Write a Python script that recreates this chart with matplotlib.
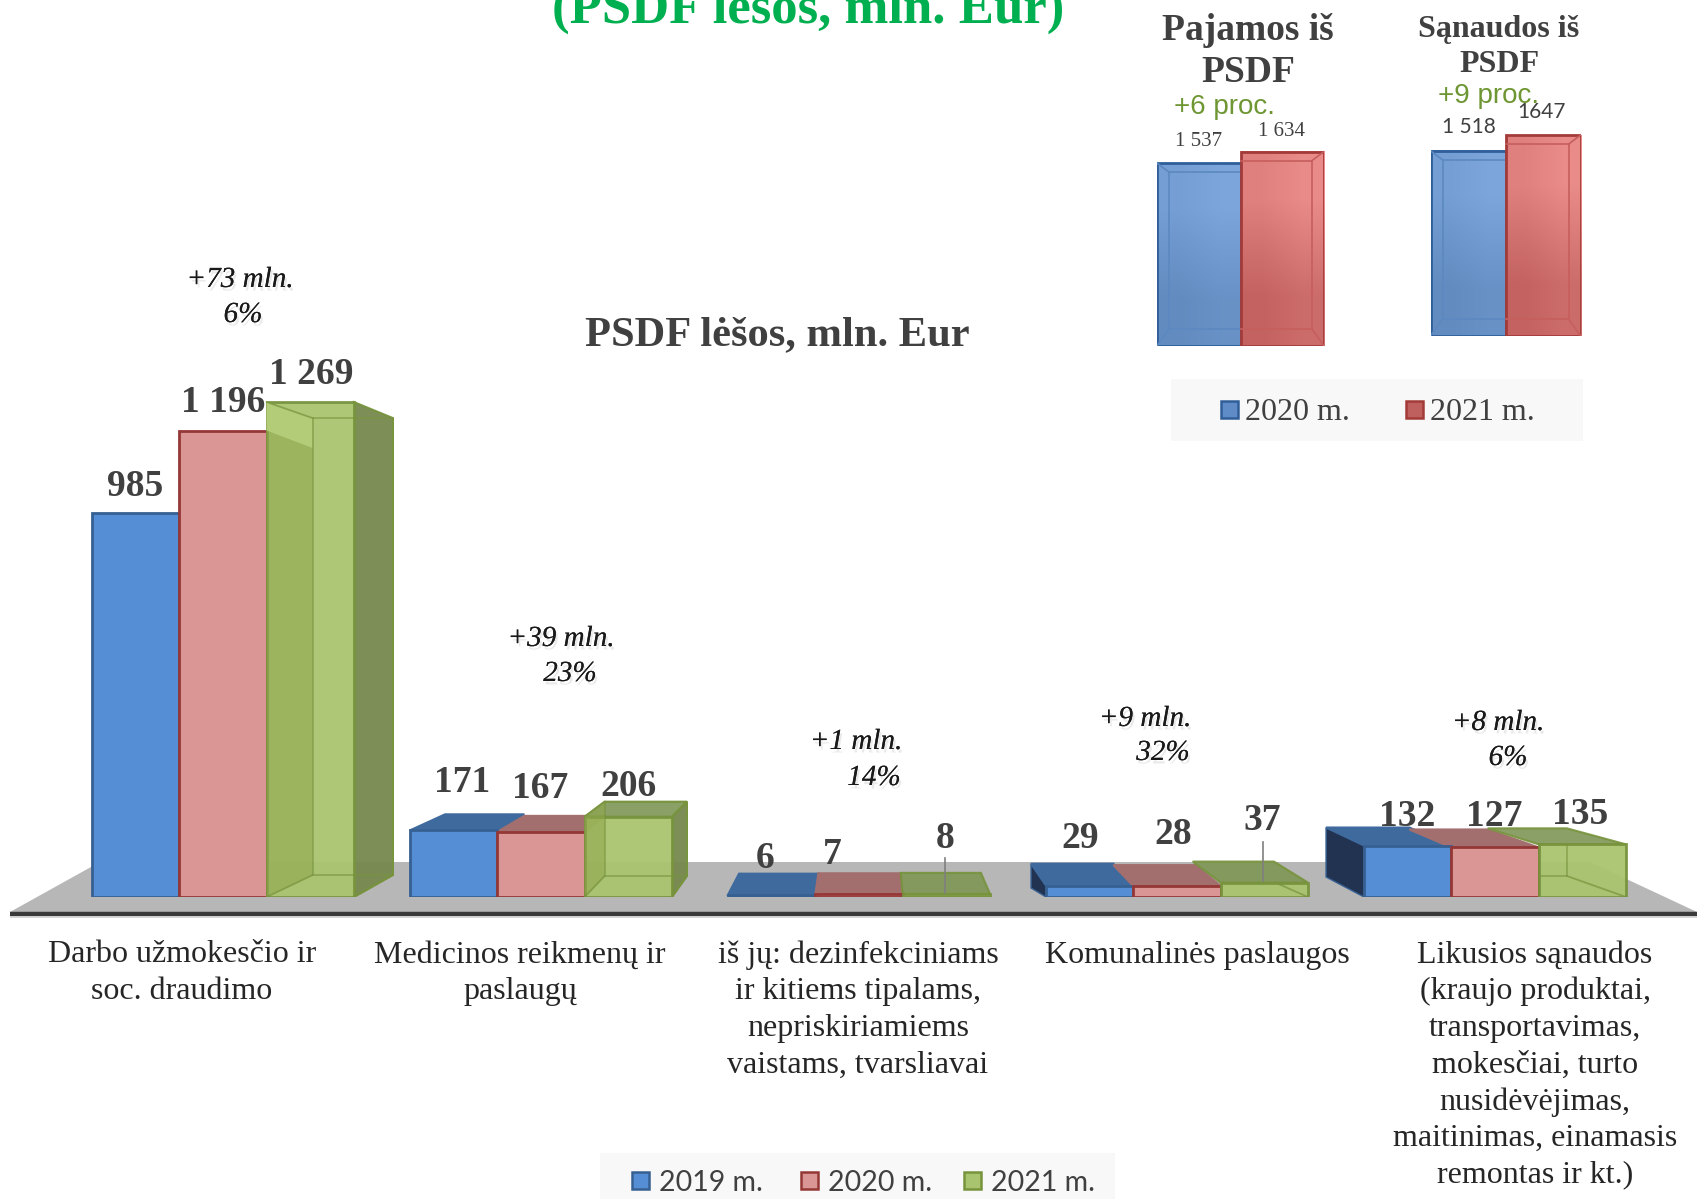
import numpy as np
import matplotlib
matplotlib.use("Agg")
import matplotlib.pyplot as plt
import matplotlib.patheffects as pe
from matplotlib.colors import LinearSegmentedColormap
from matplotlib.patches import Polygon, Rectangle

# data
categories = ["Darbo užmokesčio ir\nsoc. draudimo",
              "Medicinos reikmenų ir\npaslaugų",
              "iš jų: dezinfekciniams\nir kitiems tipalams,\nnepriskiriamiems\nvaistams, tvarsliavai",
              "Komunalinės paslaugos",
              "Likusios sąnaudos\n(kraujo produktai,\ntransportavimas,\nmokesčiai, turto\nnusidėvėjimas,\nmaitinimas, einamasis\nremontas ir kt.)"]
years = ["2019 m.", "2020 m.", "2021 m."]
v2019 = [985, 171, 6, 29, 132]
v2020 = [1196, 167, 7, 28, 127]
v2021 = [1269, 206, 8, 37, 135]
labels_2019 = ["985", "171", "6", "29", "132"]
labels_2020 = ["1 196", "167", "7", "28", "127"]
labels_2021 = ["1 269", "206", "8", "37", "135"]
changes = ["+73 mln.", "+39 mln.", "+1 mln.", "+9 mln.", "+8 mln."]
percents = ["6%", "23%", "14%", "32%", "6%"]

income = [1537, 1634]
costs = [1518, 1647]
income_labels = ["1 537", "1 634"]
costs_labels = ["1 518", "1647"]

# layout, pixels of the 1697x1199 picture
W, H = 1697, 1199
BASE = 897
K = 0.39
STEP = 318
X0 = 223
BAR = 87.3
SERIF = "Liberation Serif"
DARK = "#404040"

fronts = ["#558ED5", "#D99694", "#A9C46E"]
edges = ["#376092", "#953735", "#77933C"]
tops = ["#3F6A9E", "#A36F6E", "#7F9655"]
sides = ["#223352", "#7A4A49", "#76894E"]

# back face offsets per bar: left, right, rise of top, lift of bottom
depth = [
    [None, None, (46, 39, -16, 22)],
    [(35, 27, 16, 21), (27, 20, 16, 21), (20, 15, 15, 21)],
    [(11, 3, 21, 0), (3, -2, 21, 0), (-2, -9, 21, 0)],
    [(-15, -20, 22, 9), (-20, -25, 21, 9), (-28, -34, 21, 15)],
    [(-38, -42, 18, 20), (-42, -51, 18, 20), (-51, -59, 16, 21)],
]

fig = plt.figure(figsize=(W / 100, H / 100), dpi=100, facecolor="white")


def pixel_axes(z):
    a = fig.add_axes([0, 0, 1, 1], zorder=z)
    a.set_xlim(0, W)
    a.set_ylim(H, 0)
    a.axis("off")
    return a


back = pixel_axes(0)
front = pixel_axes(5)

# floor and base line
back.add_patch(Polygon([(10, 912), (100, 862), (1590, 862), (1697, 912)], fc="#B7B7B7", ec="none"))
back.plot([10, W], [914, 914], color="#3A3A3A", lw=3.2, solid_capstyle="butt")
back.plot([10, W], [917, 917], color="#D0D0D0", lw=1.2, solid_capstyle="butt")

# main axes, value scale
ax = fig.add_axes([0, (H - BASE) / H, 1, BASE / H], zorder=2)
ax.set_xlim(-X0 / STEP, (W - X0) / STEP)
ax.set_ylim(0, BASE / K)
ax.axis("off")
ax.patch.set_alpha(0)


def dpt(px, py):
    return ((px - X0) / STEP, (BASE - py) / K)


def draw_bar(i, s, v):
    x = i + (s - 1) * BAR / STEP
    d = depth[i][s]
    if d is not None:
        left = X0 + x * STEP - BAR / 2
        right = left + BAR
        ytop = BASE - v * K
        dl, dr, rise, lift = d
        bl, br = left + dl, right + dr
        yb = ytop - rise
        ybot = BASE - lift
        a = 0.9 if s == 2 else 1
        if dr > 0 and s == 2:
            ax.add_patch(Polygon([dpt(right, ytop), dpt(br, yb), dpt(br, ybot), dpt(right, BASE)],
                                 fc=sides[2], ec=edges[2], lw=1.5, alpha=0.95, zorder=3))
        if dl < 0 and s == 0:
            ax.add_patch(Polygon([dpt(left, ytop), dpt(bl, yb), dpt(bl, ybot), dpt(left, BASE)],
                                 fc=sides[0], ec=edges[0], lw=1, zorder=3 + s))
        if rise > 0:
            ax.add_patch(Polygon([dpt(left, ytop), dpt(right, ytop), dpt(br, yb), dpt(bl, yb)],
                                 fc=tops[s], ec=edges[s] if s == 2 else tops[s], lw=1.5, alpha=a, zorder=3 + s))
    bar = ax.bar(x, v, BAR / STEP, color=fronts[s], edgecolor=edges[s], lw=2,
                 alpha=0.94 if s == 2 else 1, zorder=6 + s)[0]
    if d is not None and s == 2:
        # inner walls and back edges of the green box
        if dl > 0:
            ax.add_patch(Polygon([dpt(left, ytop), dpt(bl, yb), dpt(bl, ybot), dpt(left, BASE)],
                                 fc="#8FA84C", ec="none", alpha=0.6, zorder=9))
        if rise < 0:
            ax.add_patch(Polygon([dpt(left, ytop), dpt(bl, yb), dpt(bl, yb + 30), dpt(left, BASE - v2020[i] * K)],
                                 fc="#B3CC78", ec="none", zorder=9))
        xs = [bl, bl, br, br, bl]
        ys = [ybot, yb, yb, ybot, ybot]
        p = [dpt(a_, b_) for a_, b_ in zip(xs, ys)]
        ln = ax.plot([q[0] for q in p], [q[1] for q in p], color=edges[2], lw=1.3, alpha=0.6, zorder=10)[0]
        if dl < 0:
            ln.set_clip_path(bar)
        for a_, b_, c_, e_ in [(left, ytop, bl, yb), (left, BASE, bl, ybot), (right, BASE, br, ybot)]:
            p = [dpt(a_, b_), dpt(c_, e_)]
            ln = ax.plot([p[0][0], p[1][0]], [p[0][1], p[1][1]], color=edges[2], lw=1.3, alpha=0.7, zorder=10)[0]
            if dl < 0:
                ln.set_clip_path(bar)


for i in range(5):
    for s, vals in enumerate([v2019, v2020, v2021]):
        draw_bar(i, s, vals[i])

# leader lines
front.plot([945, 945], [858, 893], color="#7F7F7F", lw=1.2)
front.plot([1263, 1263], [842, 881], color="#7F7F7F", lw=1.2)

# value labels
label_pos = [[(135, 486), (223, 403), (311, 374)],
             [(462, 783), (540, 788), (628, 787)],
             [(765, 859), (832, 854), (945, 838)],
             [(1080, 838), (1173, 835), (1262, 820)],
             [(1407, 816), (1494, 817), (1580, 815)]]
for i in range(5):
    for s, txt in enumerate([labels_2019[i], labels_2020[i], labels_2021[i]]):
        front.text(*label_pos[i][s], txt, family=SERIF, weight="bold", fontsize=27,
                   color=DARK, ha="center", va="center")

# change notes
shadow = [pe.withSimplePatchShadow(offset=(1.5, -2.5), shadow_rgbFace="#808080", alpha=0.16), pe.Normal()]
change_pos = [(240, 280), (561, 639), (856, 742), (1145, 719), (1498, 723)]
percent_pos = [(243, 315), (570, 674), (874, 778), (1163, 753), (1508, 758)]
for i in range(5):
    front.text(*change_pos[i], changes[i], family=SERIF, style="italic", fontsize=21,
               color="#1A1A1A", ha="center", va="center", path_effects=shadow)
    front.text(*percent_pos[i], percents[i], family=SERIF, style="italic", fontsize=21,
               color="#1A1A1A", ha="center", va="center", path_effects=shadow)

# category labels
cat_x = [182, 520, 858, 1197, 1535]
for x, c in zip(cat_x, categories):
    for n, line in enumerate(c.split("\n")):
        front.text(x, 955 + n * 36.7, line, family=SERIF, fontsize=23, color="#262626",
                   ha="center", va="center")

# titles
front.text(808, 10, "(PSDF lėšos, mln. Eur)", family=SERIF, weight="bold", fontsize=38,
           color="#00B050", ha="center", va="center")
front.text(777, 335, "PSDF lėšos, mln. Eur", family=SERIF, weight="bold", fontsize=30.6,
           color=DARK, ha="center", va="center")

# bottom legend
front.add_patch(Rectangle((600, 1153), 515, 46, fc="#F8F8F8", ec="none", zorder=0))
for x, s, y in zip([632, 801, 964], range(3), years):
    front.add_patch(Rectangle((x, 1172), 17, 17, fc=fronts[s], ec=edges[s], lw=1.8))
    front.text(x + 27, 1183, y, family="Lato", fontsize=20.5, color=DARK, va="center")


# small charts
def small_chart(vals, left, right, bottom, top, vmax_px):
    a = fig.add_axes([left / W, (H - bottom) / H, (right - left) / W, (bottom - top) / H], zorder=3)
    a.axis("off")
    a.patch.set_alpha(0)
    bars = a.bar([0, 1], vals, 1, color="none", edgecolor="none")
    colors = [("#7BA5DB", "#628CC0"), ("#E98B89", "#C36260")]
    line = ["#2F5E99", "#A33B39"]
    inner = ["#5C88C0", "#C55F5D"]
    ipx = 2 / (right - left)
    vpx = vmax_px / (bottom - top)
    for k, b in enumerate(bars):
        x0, x1 = b.get_x(), b.get_x() + b.get_width()
        h = b.get_height()
        grad = np.array([[0.25, 0.0], [1.0, 0.75]])
        cmap = LinearSegmentedColormap.from_list("g", [colors[k][0], colors[k][1]])
        a.imshow(grad, extent=(x0, x1, 0, h), cmap=cmap, aspect="auto",
                 interpolation="bilinear", zorder=2 + k)
        a.add_patch(Rectangle((x0, 0), x1 - x0, h, fc="none", ec=line[k], lw=2, zorder=3 + k))
        # bevel: outer side only, the two bars touch on the inner side
        ix = x0 + 12 * ipx if k == 0 else x1 - 12 * ipx
        far = x1 if k == 0 else x0
        edge = x0 if k == 0 else x1
        iy0, iy1 = 17 * vpx, h - 9 * vpx
        a.plot([far, ix, ix, far], [iy1, iy1, iy0, iy0], color=inner[k], lw=1.2, zorder=3 + k)
        a.plot([edge, ix], [0, iy0], color=inner[k], lw=1.2, zorder=3 + k)
        a.plot([edge, ix], [h, iy1], color=inner[k], lw=1.2, zorder=3 + k)
    a.set_xlim(-0.5, 1.5)
    a.set_ylim(0, vmax_px)


small_chart(income, 1157, 1324, 346, 120, 226 / 0.119)
small_chart(costs, 1430.5, 1580.6, 336, 100, 236 / 0.122)

front.text(1248, 31, "Pajamos iš", family=SERIF, weight="bold", fontsize=27, color=DARK, ha="center", va="center")
front.text(1248, 73, "PSDF", family=SERIF, weight="bold", fontsize=27, color=DARK, ha="center", va="center")
front.text(1499, 30, "Sąnaudos iš", family=SERIF, weight="bold", fontsize=23, color=DARK, ha="center", va="center")
front.text(1499, 65, "PSDF", family=SERIF, weight="bold", fontsize=23, color=DARK, ha="center", va="center")
front.text(1224, 107, "+6 proc.", family="Liberation Sans", fontsize=20, color="#6E9632", ha="center", va="center")
front.text(1489, 96, "+9 proc.", family="Liberation Sans", fontsize=20, color="#6E9632", ha="center", va="center")
front.text(1199, 142, income_labels[0], family=SERIF, fontsize=15, color=DARK, ha="center", va="center")
front.text(1282, 131, income_labels[1], family=SERIF, fontsize=15, color=DARK, ha="center", va="center")
front.text(1469, 127, costs_labels[0], family="Lato", fontsize=15, color=DARK, ha="center", va="center")
front.text(1542, 112, costs_labels[1], family="Lato", fontsize=15, color=DARK, ha="center", va="center")

# top legend
front.add_patch(Rectangle((1171, 379), 412, 62, fc="#F8F8F8", ec="none", zorder=0))
for x, c, e, y in zip([1221, 1406], ["#5F8CC7", "#C0605E"], ["#2F5E99", "#A33B39"], years[1:]):
    front.add_patch(Rectangle((x, 401), 17, 17, fc=c, ec=e, lw=1.8))
    front.text(x + 24, 412, y, family=SERIF, fontsize=23, color=DARK, va="center")

fig.savefig("out.png", dpi=100)
